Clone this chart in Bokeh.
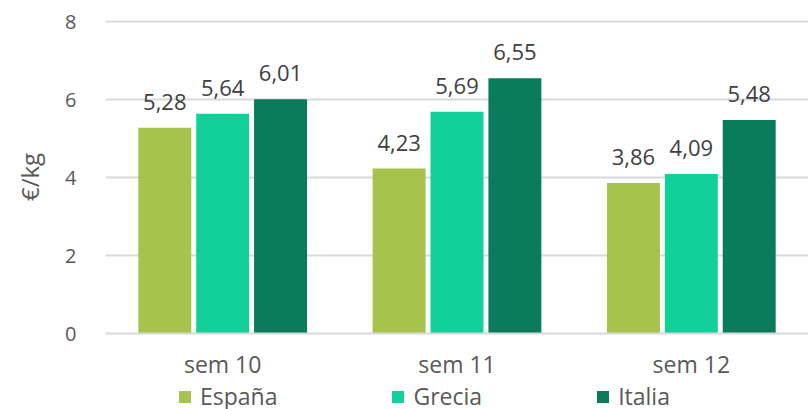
from bokeh.plotting import figure
from bokeh.models import (FactorRange, Range1d, ColumnDataSource, LabelSet, Legend,
                          LegendItem, SingleIntervalTicker)
from bokeh.layouts import column
from bokeh.core.properties import value
from bokeh.transform import dodge
from bokeh.embed import file_html
from bokeh.resources import INLINE

weeks = ["sem 10", "sem 11", "sem 12"]
espana = [5.28, 4.23, 3.86]
grecia = [5.64, 5.69, 4.09]
italia = [6.01, 6.55, 5.48]
series_names = ["España", "Grecia", "Italia"]
colors = ["#A6C34C", "#12D09A", "#0A7C5C"]

FONT = "Open Sans"
GRAY = "#595959"

def fmt(v):
    return f"{v:.2f}".replace(".", ",")

src = ColumnDataSource(dict(
    weeks=weeks, espana=espana, grecia=grecia, italia=italia,
    espana_l=[fmt(v) for v in espana],
    grecia_l=[fmt(v) for v in grecia],
    italia_l=[fmt(v) for v in italia],
))

p = figure(x_range=FactorRange(*weeks, range_padding=0), y_range=Range1d(0, 8.03),
           frame_width=703, frame_height=313, output_backend="svg", toolbar_location=None,
           min_border_left=105, min_border_top=20, min_border_right=0, min_border_bottom=40)
p.outline_line_color = None

offsets = [-0.247, 0.0, 0.247]
keys = ["espana", "grecia", "italia"]
for key, off, col in zip(keys, offsets, colors):
    p.vbar(x=dodge("weeks", off, range=p.x_range), top=key, width=0.226,
           source=src, fill_color=col, line_color=None)
    lbl = LabelSet(x=dodge("weeks", off, range=p.x_range), y=key, text=key + "_l",
                   source=src, text_align="center", text_baseline="alphabetic",
                   y_offset=18, text_font=value(FONT), text_font_size="22px",
                   text_color="#404040")
    p.add_layout(lbl)

p.yaxis.ticker = SingleIntervalTicker(interval=2)
p.yaxis.axis_line_color = None
p.yaxis.major_tick_line_color = None
p.yaxis.minor_tick_line_color = None
p.yaxis.major_label_text_font = FONT
p.yaxis.major_label_text_font_size = "20px"
p.yaxis.major_label_text_color = GRAY
p.yaxis.major_label_standoff = 23
p.yaxis.axis_label = "€/kg"
p.yaxis.axis_label_text_font = FONT
p.yaxis.axis_label_text_font_size = "24px"
p.yaxis.axis_label_text_font_style = "normal"
p.yaxis.axis_label_text_color = GRAY
p.yaxis.axis_label_standoff = 16

p.xaxis.axis_line_color = "#D9D9D9"
p.xaxis.axis_line_width = 2
p.xaxis.major_tick_line_color = None
p.xaxis.minor_tick_line_color = None
p.xaxis.major_label_text_font = FONT
p.xaxis.major_label_text_font_size = "23px"
p.xaxis.major_label_text_color = GRAY
p.xaxis.major_label_standoff = 8

p.xgrid.grid_line_color = None
p.ygrid.grid_line_color = "#D9D9D9"
p.ygrid.grid_line_width = 2

# legend strip below the chart (its bars lie outside its visible y range)
lg = figure(width=808, height=36, x_range=FactorRange(*weeks), y_range=Range1d(100, 101),
            output_backend="svg", toolbar_location=None, x_axis_type=None, y_axis_type=None,
            min_border=0)
lg.outline_line_color = None
lg.grid.grid_line_color = None
dummies = []
for key, col in zip(keys, colors):
    dummies.append(lg.vbar(x="weeks", top=key, width=0.2, source=src,
                           fill_color=col, line_color=None))

legend = Legend(items=[LegendItem(label=n, renderers=[r]) for n, r in zip(series_names, dummies)],
                orientation="horizontal", location=(72, 6), spacing=113,
                glyph_width=15, glyph_height=15, label_standoff=8,
                label_text_font=FONT, label_text_font_size="23px", label_text_color=GRAY,
                border_line_color=None, background_fill_alpha=0, padding=0, margin=0)
lg.add_layout(legend, "center")

layout = column(p, lg, spacing=0)
open("out.html", "w").write(file_html(layout, INLINE))
